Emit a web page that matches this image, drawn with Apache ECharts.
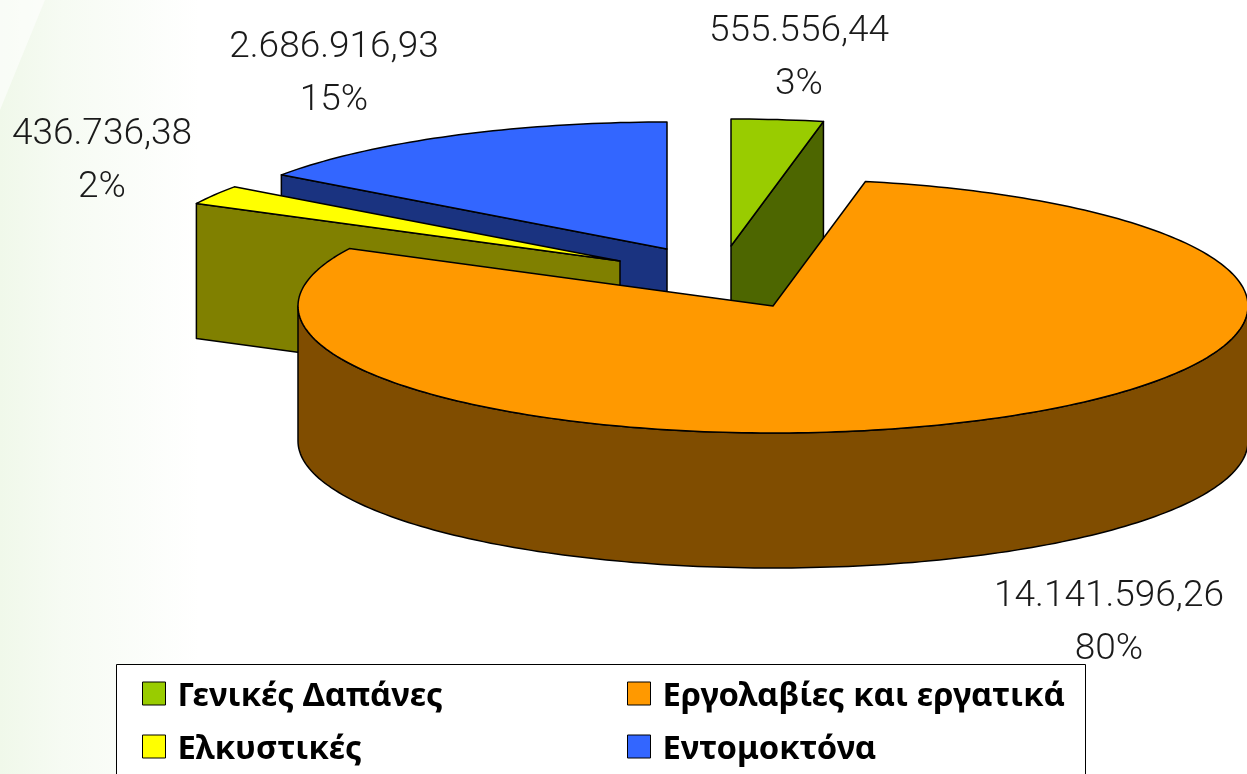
<!DOCTYPE html>
<html>
<head>
<meta charset="utf-8">
<style>
  html, body { margin: 0; padding: 0; background: #fff; }
  #chart { width: 1247px; height: 774px; }
</style>
<script src="https://cdn.jsdelivr.net/npm/echarts@6/dist/echarts.min.js"></script>
</head>
<body>
<div id="chart"></div>
<script>
// values, clockwise from 12 o'clock
const categories = ['Γενικές Δαπάνες', 'Εργολαβίες και εργατικά', 'Ελκυστικές', 'Εντομοκτόνα'];
const values     = [555556.44, 14141596.26, 436736.38, 2686916.93];
const percents   = ['3%', '80%', '2%', '15%'];

const TOP_COLORS  = ['#99CC00', '#FF9900', '#FFFF00', '#3366FF'];
const SIDE_COLORS = ['#4D6600', '#804D00', '#808000', '#1A3380'];

// exploded slices: apex of every wedge, and where its label sits
const APEX   = [[731, 246], [773, 306], [620, 261], [667, 249]];
const LABELS = [[799, 58], [1109, 623], [102, 161], [334, 74]];
const Z      = [1, 4, 3, 2];
const RX = 475, RY = 127, DEPTH = 135;

const total = values.reduce((a, b) => a + b, 0);
const starts = [];
values.reduce((acc, v, i) => { starts[i] = acc; return acc + v; }, 0);

const toAngle = (v) => (v / total) * Math.PI * 2;
const formatValue = (v) => v.toLocaleString('de-DE', { minimumFractionDigits: 2, maximumFractionDigits: 2 });

function rimPoint(c, a, drop) {
  return [c[0] + RX * Math.sin(a), c[1] - RY * Math.cos(a) + (drop || 0)];
}

function arc(c, a, b, drop) {
  const n = Math.max(2, Math.ceil((b - a) / 0.02));
  const pts = [];
  for (let k = 0; k <= n; k++) pts.push(rimPoint(c, a + (b - a) * k / n, drop));
  return pts;
}

function poly(points, fill) {
  return {
    type: 'polygon',
    shape: { points },
    style: { fill, stroke: '#000', lineWidth: 1.5, lineJoin: 'round' },
  };
}

function radialFace(c, a, fill) {
  const p = rimPoint(c, a);
  return poly([c, p, [p[0], p[1] + DEPTH], [c[0], c[1] + DEPTH]], fill);
}

const makeRenderItem = (i) => (params, api) => {
  const c = APEX[i];
  const a = toAngle(starts[i]);
  const b = a + toAngle(api.value(0));
  const children = [];

  // faces turned towards the viewer, back to front
  if (Math.sin(a) < -1e-6) children.push(radialFace(c, a, SIDE_COLORS[i]));
  if (Math.sin(b) > 1e-6) children.push(radialFace(c, b, SIDE_COLORS[i]));

  const wallFrom = Math.max(a, Math.PI / 2);
  const wallTo   = Math.min(b, Math.PI * 1.5);
  if (wallTo > wallFrom) {
    children.push(poly(
      arc(c, wallFrom, wallTo, 0).concat(arc(c, wallFrom, wallTo, DEPTH).reverse()),
      SIDE_COLORS[i],
    ));
  }

  children.push(poly([c].concat(arc(c, a, b, 0)), TOP_COLORS[i]));

  children.push({
    type: 'text',
    x: LABELS[i][0],
    y: LABELS[i][1],
    style: {
      text: formatValue(api.value(0)) + '\n' + percents[i],
      fill: '#1a1a1a',
      font: '300 37px Roboto, sans-serif',
      lineHeight: 53,
      align: 'center',
      verticalAlign: 'middle',
    },
  });

  return { type: 'group', children };
};

const chart = echarts.init(document.getElementById('chart'), null, { renderer: 'canvas' });

const legendFont = {
  color: '#000',
  fontFamily: '"Noto Sans", sans-serif',
  fontWeight: 'bold',
  fontSize: 32.8,
};

// one legend per column, the frame is a separate rect
const legendColumn = (left, names) => ({
  left, top: 680,
  orient: 'vertical',
  align: 'left',
  padding: 0,
  icon: 'rect',
  itemWidth: 23,
  itemHeight: 23,
  itemGap: 20,
  selectedMode: false,
  data: names,
  itemStyle: { borderColor: '#000', borderWidth: 1 },
  formatter: (name) => '{t|' + name + '}',
  textStyle: {
    ...legendFont,
    padding: [0, 0, 0, 7],
    rich: { t: { ...legendFont, padding: [6, 0, 0, 0] } },
  },
});

chart.setOption({
  animation: false,
  backgroundColor: {
    type: 'linear', x: 0, y: 0, x2: 1, y2: 0,
    colorStops: [
      { offset: 0, color: '#F0F8EA' },
      { offset: 0.05, color: '#F6FBF3' },
      { offset: 0.16, color: '#FFFFFF' },
      { offset: 1, color: '#FFFFFF' },
    ],
  },
  graphic: [{
    type: 'polygon', silent: true, z: 0,
    shape: { points: [[0, 0], [45, 0], [0, 110]] },
    style: { fill: 'rgba(255,255,255,0.6)' },
  }, {
    // legend frame, runs off the bottom of the picture
    type: 'rect', silent: true, z: 0,
    shape: { x: 116.5, y: 664.5, width: 969, height: 140 },
    style: { fill: '#fff', stroke: '#000', lineWidth: 1 },
  }],
  legend: [
    legendColumn(142, [categories[0], categories[2]]),
    legendColumn(627, [categories[1], categories[3]]),
  ],
  series: categories.map((name, i) => ({
    type: 'custom',
    name,
    coordinateSystem: 'none',
    z: Z[i],
    clip: false,
    itemStyle: { color: TOP_COLORS[i] },
    data: [[values[i]]],
    renderItem: makeRenderItem(i),
  })),
});
</script>
</body>
</html>
